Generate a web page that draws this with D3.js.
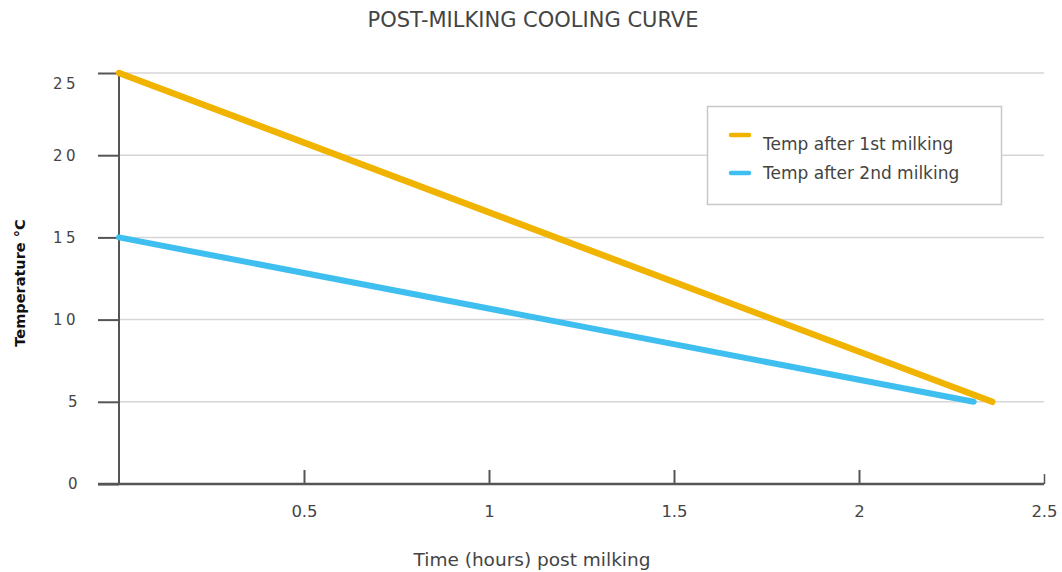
<!DOCTYPE html>
<html>
<head>
<meta charset="utf-8">
<script src="https://cdn.jsdelivr.net/npm/d3@7"></script>
<style>
  body { margin: 0; background: #fff; }
  text { font-family: "DejaVu Sans", Verdana, sans-serif; fill: #444; }
</style>
</head>
<body>
<div id="chart-area"></div>
<script>
// data
var seriesNames = ["Temp after 1st milking", "Temp after 2nd milking"];
var seriesColors = ["#f0b400", "#3fbfef"];
var firstMilking = [{ t: 0, temp: 25 }, { t: 2.36, temp: 5 }];
var secondMilking = [{ t: 0, temp: 15 }, { t: 2.31, temp: 5 }];
var xTicks = [0.5, 1, 1.5, 2, 2.5];
var yTicks = [0, 5, 10, 15, 20, 25];

var W = 1062, H = 572;
var margin = { top: 73, right: 18, bottom: 88, left: 119 };
var width = W - margin.left - margin.right;
var height = H - margin.top - margin.bottom;

var svg = d3.select("#chart-area").append("svg")
	.attr("width", W)
	.attr("height", H);

var g = svg.append("g")
	.attr("transform", "translate(" + margin.left + ", " + margin.top + ")");

var x = d3.scaleLinear().domain([0, 2.5]).range([0, 370 * 2.5]);
var y = d3.scaleLinear().domain([0, 25]).range([height, 0]);

// title
svg.append("text")
	.attr("x", 533)
	.attr("y", 27)
	.attr("text-anchor", "middle")
	.attr("font-size", "21px")
	.text("POST-MILKING COOLING CURVE");

// gridlines
g.selectAll("line.grid").data(yTicks.filter(function (d) { return d > 0; }))
	.enter().append("line")
	.attr("class", "grid")
	.attr("x1", 0)
	.attr("x2", x(2.5))
	.attr("y1", function (d) { return y(d); })
	.attr("y2", function (d) { return y(d); })
	.attr("stroke", "#d6d6d6")
	.attr("stroke-width", 1.5);

// y axis
var yAxis = d3.axisLeft(y).tickValues(yTicks).tickSize(21).tickPadding(38);
var yg = g.append("g").attr("class", "y axis").call(yAxis);
yg.select(".domain").remove();
yg.selectAll(".tick line").attr("stroke", "#555").attr("stroke-width", 2);
yg.selectAll(".tick text")
	.attr("text-anchor", "start")
	.attr("font-size", "15px")
	.attr("letter-spacing", "3.5px")
	.attr("fill", "#444")
	.attr("dy", function (d) { return d === 25 ? "1.05em" : "0.32em"; })
	.style("font-family", "DejaVu Sans, Verdana, sans-serif");
yg.selectAll(".tick text").filter(function (d) { return d < 10; })
	.attr("x", -51);
yg.selectAll(".tick text").filter(function (d) { return d >= 10; })
	.attr("x", -66);
g.append("line")
	.attr("x1", 0).attr("x2", 0)
	.attr("y1", y(25)).attr("y2", height)
	.attr("stroke", "#555").attr("stroke-width", 2);

// x axis
var xAxis = d3.axisBottom(x).tickValues(xTicks).tickSize(0).tickPadding(21)
	.tickFormat(function (d) { return String(d); });
var xg = g.append("g").attr("class", "x axis")
	.attr("transform", "translate(0, " + height + ")")
	.call(xAxis);
xg.select(".domain").remove();
xg.selectAll(".tick text")
	.attr("font-size", "16.5px")
	.attr("fill", "#444")
	.style("font-family", "DejaVu Sans, Verdana, sans-serif");
xg.selectAll(".tick").append("line")
	.attr("y1", 0)
	.attr("y2", function (d) { return d === 2.5 ? -10 : -14; })
	.attr("stroke", "#555")
	.attr("stroke-width", function (d) { return d === 2.5 ? 1.5 : 2; });
xg.append("line")
	.attr("x1", -21).attr("x2", x(2.5))
	.attr("stroke", "#555").attr("stroke-width", 2.5);

// axis labels
svg.append("text")
	.attr("x", 532)
	.attr("y", 566)
	.attr("text-anchor", "middle")
	.attr("font-size", "18.5px")
	.text("Time (hours) post milking");

svg.append("text")
	.attr("transform", "translate(25, 283) rotate(-90)")
	.attr("text-anchor", "middle")
	.attr("font-size", "14.5px")
	.attr("font-weight", "bold")
	.style("fill", "#111")
	.text("Temperature °C");

// lines
var line = d3.line()
	.x(function (d) { return x(d.t); })
	.y(function (d) { return y(d.temp); });

g.append("path").datum(secondMilking)
	.attr("d", line)
	.attr("fill", "none")
	.attr("stroke", seriesColors[1])
	.attr("stroke-width", 6)
	.attr("stroke-linecap", "round");

g.append("path").datum(firstMilking)
	.attr("d", line)
	.attr("fill", "none")
	.attr("stroke", seriesColors[0])
	.attr("stroke-width", 6.5)
	.attr("stroke-linecap", "round");

// legend
var legend = svg.append("g").attr("transform", "translate(707, 106)");
legend.append("rect")
	.attr("x", 0.5).attr("y", 0.5)
	.attr("width", 294).attr("height", 98)
	.attr("fill", "#fff")
	.attr("stroke", "#c8c8c8")
	.attr("stroke-width", 1.5);

var items = legend.selectAll("g.item").data(seriesNames)
	.enter().append("g")
	.attr("class", "item")
	.attr("transform", function (d, i) { return "translate(0, " + (29 + i * 38) + ")"; });
items.append("line")
	.attr("x1", 24).attr("x2", 42)
	.attr("stroke", function (d, i) { return seriesColors[i]; })
	.attr("stroke-width", 4.5)
	.attr("stroke-linecap", "round");
items.append("text")
	.attr("x", 56)
	.attr("y", function (d, i) { return i === 0 ? 10 : 1; })
	.attr("dy", "0.32em")
	.attr("font-size", "17px")
	.text(function (d) { return d; });
</script>
</body>
</html>
